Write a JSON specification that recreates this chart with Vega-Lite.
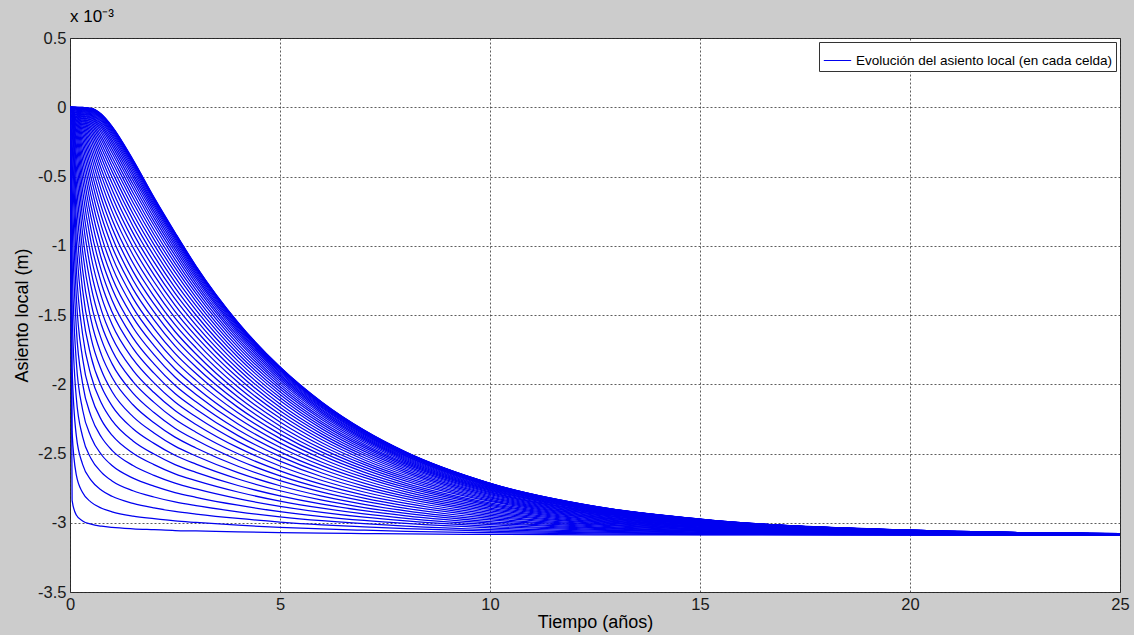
{"$schema":"https://vega.github.io/schema/vega-lite/v6.json","width":1050,"height":554,"autosize":{"type":"none"},"padding":{"left":70,"top":38,"right":14,"bottom":43},"background":"#cccccc","title":{"text":"x 10⁻³","anchor":"start","frame":"group","offset":4,"fontSize":17,"fontWeight":"normal","font":"Liberation Sans","color":"#000000"},
"data":{"values":[
{"c":1,"t":0,"y":0},{"c":1,"t":0.05,"y":-2.838},{"c":1,"t":0.15,"y":-2.944},{"c":1,"t":0.3,"y":-2.987},{"c":1,"t":0.5,"y":-3.010},{"c":1,"t":0.75,"y":-3.025},{"c":1,"t":1,"y":-3.034},{"c":1,"t":1.5,"y":-3.044},{"c":1,"t":2,"y":-3.050},{"c":1,"t":2.5,"y":-3.056},{"c":1,"t":3,"y":-3.059},{"c":1,"t":4,"y":-3.066},{"c":1,"t":5,"y":-3.071},{"c":1,"t":6,"y":-3.075},{"c":1,"t":7,"y":-3.078},{"c":1,"t":8,"y":-3.081},{"c":1,"t":10,"y":-3.084},{"c":1,"t":12.5,"y":-3.087},{"c":1,"t":15,"y":-3.088},{"c":1,"t":20,"y":-3.089},{"c":1,"t":25,"y":-3.090},
{"c":2,"t":0,"y":0},{"c":2,"t":0.05,"y":-2.344},{"c":2,"t":0.15,"y":-2.655},{"c":2,"t":0.3,"y":-2.782},{"c":2,"t":0.5,"y":-2.851},{"c":2,"t":0.75,"y":-2.895},{"c":2,"t":1,"y":-2.921},{"c":2,"t":1.5,"y":-2.952},{"c":2,"t":2,"y":-2.971},{"c":2,"t":2.5,"y":-2.987},{"c":2,"t":3,"y":-2.998},{"c":2,"t":4,"y":-3.018},{"c":2,"t":5,"y":-3.033},{"c":2,"t":6,"y":-3.045},{"c":2,"t":7,"y":-3.054},{"c":2,"t":8,"y":-3.062},{"c":2,"t":10,"y":-3.072},{"c":2,"t":12.5,"y":-3.080},{"c":2,"t":15,"y":-3.085},{"c":2,"t":20,"y":-3.088},{"c":2,"t":25,"y":-3.089},
{"c":3,"t":0,"y":0},{"c":3,"t":0.05,"y":-1.880},{"c":3,"t":0.15,"y":-2.371},{"c":3,"t":0.3,"y":-2.578},{"c":3,"t":0.5,"y":-2.692},{"c":3,"t":0.75,"y":-2.765},{"c":3,"t":1,"y":-2.809},{"c":3,"t":1.5,"y":-2.860},{"c":3,"t":2,"y":-2.893},{"c":3,"t":2.5,"y":-2.918},{"c":3,"t":3,"y":-2.937},{"c":3,"t":4,"y":-2.969},{"c":3,"t":5,"y":-2.995},{"c":3,"t":6,"y":-3.015},{"c":3,"t":7,"y":-3.030},{"c":3,"t":8,"y":-3.043},{"c":3,"t":10,"y":-3.061},{"c":3,"t":12.5,"y":-3.074},{"c":3,"t":15,"y":-3.081},{"c":3,"t":20,"y":-3.087},{"c":3,"t":25,"y":-3.089},
{"c":4,"t":0,"y":0},{"c":4,"t":0.05,"y":-1.462},{"c":4,"t":0.15,"y":-2.098},{"c":4,"t":0.3,"y":-2.378},{"c":4,"t":0.5,"y":-2.536},{"c":4,"t":0.75,"y":-2.636},{"c":4,"t":1,"y":-2.698},{"c":4,"t":1.5,"y":-2.769},{"c":4,"t":2,"y":-2.814},{"c":4,"t":2.5,"y":-2.850},{"c":4,"t":3,"y":-2.877},{"c":4,"t":4,"y":-2.921},{"c":4,"t":5,"y":-2.957},{"c":4,"t":6,"y":-2.985},{"c":4,"t":7,"y":-3.007},{"c":4,"t":8,"y":-3.024},{"c":4,"t":10,"y":-3.049},{"c":4,"t":12.5,"y":-3.067},{"c":4,"t":15,"y":-3.077},{"c":4,"t":20,"y":-3.086},{"c":4,"t":25,"y":-3.089},
{"c":5,"t":0,"y":0},{"c":5,"t":0.05,"y":-1.101},{"c":5,"t":0.15,"y":-1.837},{"c":5,"t":0.3,"y":-2.184},{"c":5,"t":0.5,"y":-2.381},{"c":5,"t":0.75,"y":-2.509},{"c":5,"t":1,"y":-2.587},{"c":5,"t":1.5,"y":-2.678},{"c":5,"t":2,"y":-2.736},{"c":5,"t":2.5,"y":-2.782},{"c":5,"t":3,"y":-2.816},{"c":5,"t":4,"y":-2.873},{"c":5,"t":5,"y":-2.919},{"c":5,"t":6,"y":-2.955},{"c":5,"t":7,"y":-2.983},{"c":5,"t":8,"y":-3.005},{"c":5,"t":10,"y":-3.037},{"c":5,"t":12.5,"y":-3.061},{"c":5,"t":15,"y":-3.074},{"c":5,"t":20,"y":-3.085},{"c":5,"t":25,"y":-3.088},
{"c":6,"t":0,"y":0},{"c":6,"t":0.05,"y":-0.803},{"c":6,"t":0.15,"y":-1.593},{"c":6,"t":0.3,"y":-1.995},{"c":6,"t":0.5,"y":-2.230},{"c":6,"t":0.75,"y":-2.383},{"c":6,"t":1,"y":-2.477},{"c":6,"t":1.5,"y":-2.587},{"c":6,"t":2,"y":-2.658},{"c":6,"t":2.5,"y":-2.714},{"c":6,"t":3,"y":-2.756},{"c":6,"t":4,"y":-2.826},{"c":6,"t":5,"y":-2.881},{"c":6,"t":6,"y":-2.925},{"c":6,"t":7,"y":-2.960},{"c":6,"t":8,"y":-2.987},{"c":6,"t":10,"y":-3.026},{"c":6,"t":12.5,"y":-3.054},{"c":6,"t":15,"y":-3.070},{"c":6,"t":20,"y":-3.084},{"c":6,"t":25,"y":-3.088},
{"c":7,"t":0,"y":0},{"c":7,"t":0.05,"y":-0.565},{"c":7,"t":0.15,"y":-1.366},{"c":7,"t":0.3,"y":-1.813},{"c":7,"t":0.5,"y":-2.081},{"c":7,"t":0.75,"y":-2.259},{"c":7,"t":1,"y":-2.368},{"c":7,"t":1.5,"y":-2.498},{"c":7,"t":2,"y":-2.580},{"c":7,"t":2.5,"y":-2.647},{"c":7,"t":3,"y":-2.696},{"c":7,"t":4,"y":-2.778},{"c":7,"t":5,"y":-2.844},{"c":7,"t":6,"y":-2.895},{"c":7,"t":7,"y":-2.936},{"c":7,"t":8,"y":-2.968},{"c":7,"t":10,"y":-3.014},{"c":7,"t":12.5,"y":-3.048},{"c":7,"t":15,"y":-3.067},{"c":7,"t":20,"y":-3.083},{"c":7,"t":25,"y":-3.088},
{"c":8,"t":0,"y":0},{"c":8,"t":0.05,"y":-0.384},{"c":8,"t":0.15,"y":-1.159},{"c":8,"t":0.3,"y":-1.639},{"c":8,"t":0.5,"y":-1.937},{"c":8,"t":0.75,"y":-2.137},{"c":8,"t":1,"y":-2.261},{"c":8,"t":1.5,"y":-2.409},{"c":8,"t":2,"y":-2.504},{"c":8,"t":2.5,"y":-2.580},{"c":8,"t":3,"y":-2.636},{"c":8,"t":4,"y":-2.731},{"c":8,"t":5,"y":-2.806},{"c":8,"t":6,"y":-2.866},{"c":8,"t":7,"y":-2.913},{"c":8,"t":8,"y":-2.950},{"c":8,"t":10,"y":-3.002},{"c":8,"t":12.5,"y":-3.041},{"c":8,"t":15,"y":-3.063},{"c":8,"t":20,"y":-3.082},{"c":8,"t":25,"y":-3.087},
{"c":9,"t":0,"y":0},{"c":9,"t":0.05,"y":-0.252},{"c":9,"t":0.15,"y":-0.973},{"c":9,"t":0.3,"y":-1.474},{"c":9,"t":0.5,"y":-1.798},{"c":9,"t":0.75,"y":-2.018},{"c":9,"t":1,"y":-2.156},{"c":9,"t":1.5,"y":-2.321},{"c":9,"t":2,"y":-2.427},{"c":9,"t":2.5,"y":-2.513},{"c":9,"t":3,"y":-2.577},{"c":9,"t":4,"y":-2.684},{"c":9,"t":5,"y":-2.769},{"c":9,"t":6,"y":-2.837},{"c":9,"t":7,"y":-2.890},{"c":9,"t":8,"y":-2.932},{"c":9,"t":10,"y":-2.991},{"c":9,"t":12.5,"y":-3.035},{"c":9,"t":15,"y":-3.059},{"c":9,"t":20,"y":-3.081},{"c":9,"t":25,"y":-3.087},
{"c":10,"t":0,"y":0},{"c":10,"t":0.05,"y":-0.160},{"c":10,"t":0.15,"y":-0.807},{"c":10,"t":0.3,"y":-1.319},{"c":10,"t":0.5,"y":-1.663},{"c":10,"t":0.75,"y":-1.901},{"c":10,"t":1,"y":-2.052},{"c":10,"t":1.5,"y":-2.234},{"c":10,"t":2,"y":-2.352},{"c":10,"t":2.5,"y":-2.447},{"c":10,"t":3,"y":-2.518},{"c":10,"t":4,"y":-2.638},{"c":10,"t":5,"y":-2.733},{"c":10,"t":6,"y":-2.808},{"c":10,"t":7,"y":-2.867},{"c":10,"t":8,"y":-2.914},{"c":10,"t":10,"y":-2.980},{"c":10,"t":12.5,"y":-3.029},{"c":10,"t":15,"y":-3.056},{"c":10,"t":20,"y":-3.080},{"c":10,"t":25,"y":-3.087},
{"c":11,"t":0,"y":0},{"c":11,"t":0.05,"y":-0.097},{"c":11,"t":0.15,"y":-0.663},{"c":11,"t":0.3,"y":-1.174},{"c":11,"t":0.5,"y":-1.534},{"c":11,"t":0.75,"y":-1.788},{"c":11,"t":1,"y":-1.950},{"c":11,"t":1.5,"y":-2.148},{"c":11,"t":2,"y":-2.278},{"c":11,"t":2.5,"y":-2.382},{"c":11,"t":3,"y":-2.460},{"c":11,"t":4,"y":-2.592},{"c":11,"t":5,"y":-2.696},{"c":11,"t":6,"y":-2.779},{"c":11,"t":7,"y":-2.844},{"c":11,"t":8,"y":-2.896},{"c":11,"t":10,"y":-2.969},{"c":11,"t":12.5,"y":-3.022},{"c":11,"t":15,"y":-3.052},{"c":11,"t":20,"y":-3.078},{"c":11,"t":25,"y":-3.086},
{"c":12,"t":0,"y":0},{"c":12,"t":0.05,"y":-0.057},{"c":12,"t":0.15,"y":-0.537},{"c":12,"t":0.3,"y":-1.039},{"c":12,"t":0.5,"y":-1.410},{"c":12,"t":0.75,"y":-1.678},{"c":12,"t":1,"y":-1.851},{"c":12,"t":1.5,"y":-2.064},{"c":12,"t":2,"y":-2.204},{"c":12,"t":2.5,"y":-2.317},{"c":12,"t":3,"y":-2.403},{"c":12,"t":4,"y":-2.547},{"c":12,"t":5,"y":-2.661},{"c":12,"t":6,"y":-2.751},{"c":12,"t":7,"y":-2.822},{"c":12,"t":8,"y":-2.878},{"c":12,"t":10,"y":-2.957},{"c":12,"t":12.5,"y":-3.016},{"c":12,"t":15,"y":-3.049},{"c":12,"t":20,"y":-3.077},{"c":12,"t":25,"y":-3.086},
{"c":13,"t":0,"y":0},{"c":13,"t":0.05,"y":-0.032},{"c":13,"t":0.15,"y":-0.430},{"c":13,"t":0.3,"y":-0.914},{"c":13,"t":0.5,"y":-1.292},{"c":13,"t":0.75,"y":-1.572},{"c":13,"t":1,"y":-1.754},{"c":13,"t":1.5,"y":-1.981},{"c":13,"t":2,"y":-2.131},{"c":13,"t":2.5,"y":-2.253},{"c":13,"t":3,"y":-2.346},{"c":13,"t":4,"y":-2.502},{"c":13,"t":5,"y":-2.625},{"c":13,"t":6,"y":-2.723},{"c":13,"t":7,"y":-2.800},{"c":13,"t":8,"y":-2.860},{"c":13,"t":10,"y":-2.947},{"c":13,"t":12.5,"y":-3.010},{"c":13,"t":15,"y":-3.046},{"c":13,"t":20,"y":-3.076},{"c":13,"t":25,"y":-3.086},
{"c":14,"t":0,"y":0},{"c":14,"t":0.05,"y":-0.018},{"c":14,"t":0.15,"y":-0.341},{"c":14,"t":0.3,"y":-0.799},{"c":14,"t":0.5,"y":-1.180},{"c":14,"t":0.75,"y":-1.468},{"c":14,"t":1,"y":-1.659},{"c":14,"t":1.5,"y":-1.899},{"c":14,"t":2,"y":-2.060},{"c":14,"t":2.5,"y":-2.190},{"c":14,"t":3,"y":-2.290},{"c":14,"t":4,"y":-2.458},{"c":14,"t":5,"y":-2.590},{"c":14,"t":6,"y":-2.695},{"c":14,"t":7,"y":-2.778},{"c":14,"t":8,"y":-2.843},{"c":14,"t":10,"y":-2.936},{"c":14,"t":12.5,"y":-3.004},{"c":14,"t":15,"y":-3.042},{"c":14,"t":20,"y":-3.075},{"c":14,"t":25,"y":-3.085},
{"c":15,"t":0,"y":0},{"c":15,"t":0.05,"y":-0.009},{"c":15,"t":0.15,"y":-0.267},{"c":15,"t":0.3,"y":-0.696},{"c":15,"t":0.5,"y":-1.074},{"c":15,"t":0.75,"y":-1.369},{"c":15,"t":1,"y":-1.567},{"c":15,"t":1.5,"y":-1.819},{"c":15,"t":2,"y":-1.990},{"c":15,"t":2.5,"y":-2.128},{"c":15,"t":3,"y":-2.235},{"c":15,"t":4,"y":-2.414},{"c":15,"t":5,"y":-2.555},{"c":15,"t":6,"y":-2.668},{"c":15,"t":7,"y":-2.756},{"c":15,"t":8,"y":-2.826},{"c":15,"t":10,"y":-2.925},{"c":15,"t":12.5,"y":-2.998},{"c":15,"t":15,"y":-3.039},{"c":15,"t":20,"y":-3.074},{"c":15,"t":25,"y":-3.085},
{"c":16,"t":0,"y":0},{"c":16,"t":0.05,"y":-0.005},{"c":16,"t":0.15,"y":-0.206},{"c":16,"t":0.3,"y":-0.602},{"c":16,"t":0.5,"y":-0.974},{"c":16,"t":0.75,"y":-1.274},{"c":16,"t":1,"y":-1.477},{"c":16,"t":1.5,"y":-1.741},{"c":16,"t":2,"y":-1.920},{"c":16,"t":2.5,"y":-2.067},{"c":16,"t":3,"y":-2.180},{"c":16,"t":4,"y":-2.371},{"c":16,"t":5,"y":-2.521},{"c":16,"t":6,"y":-2.641},{"c":16,"t":7,"y":-2.735},{"c":16,"t":8,"y":-2.809},{"c":16,"t":10,"y":-2.915},{"c":16,"t":12.5,"y":-2.992},{"c":16,"t":15,"y":-3.036},{"c":16,"t":20,"y":-3.073},{"c":16,"t":25,"y":-3.085},
{"c":17,"t":0,"y":0},{"c":17,"t":0.05,"y":-0.002},{"c":17,"t":0.15,"y":-0.158},{"c":17,"t":0.3,"y":-0.518},{"c":17,"t":0.5,"y":-0.881},{"c":17,"t":0.75,"y":-1.183},{"c":17,"t":1,"y":-1.391},{"c":17,"t":1.5,"y":-1.665},{"c":17,"t":2,"y":-1.853},{"c":17,"t":2.5,"y":-2.007},{"c":17,"t":3,"y":-2.127},{"c":17,"t":4,"y":-2.329},{"c":17,"t":5,"y":-2.488},{"c":17,"t":6,"y":-2.614},{"c":17,"t":7,"y":-2.714},{"c":17,"t":8,"y":-2.793},{"c":17,"t":10,"y":-2.904},{"c":17,"t":12.5,"y":-2.987},{"c":17,"t":15,"y":-3.033},{"c":17,"t":20,"y":-3.072},{"c":17,"t":25,"y":-3.085},
{"c":18,"t":0,"y":0},{"c":18,"t":0.05,"y":-0.001},{"c":18,"t":0.15,"y":-0.119},{"c":18,"t":0.3,"y":-0.443},{"c":18,"t":0.5,"y":-0.794},{"c":18,"t":0.75,"y":-1.096},{"c":18,"t":1,"y":-1.307},{"c":18,"t":1.5,"y":-1.590},{"c":18,"t":2,"y":-1.786},{"c":18,"t":2.5,"y":-1.948},{"c":18,"t":3,"y":-2.074},{"c":18,"t":4,"y":-2.287},{"c":18,"t":5,"y":-2.455},{"c":18,"t":6,"y":-2.588},{"c":18,"t":7,"y":-2.693},{"c":18,"t":8,"y":-2.777},{"c":18,"t":10,"y":-2.894},{"c":18,"t":12.5,"y":-2.981},{"c":18,"t":15,"y":-3.029},{"c":18,"t":20,"y":-3.071},{"c":18,"t":25,"y":-3.084},
{"c":19,"t":0,"y":0},{"c":19,"t":0.15,"y":-0.089},{"c":19,"t":0.3,"y":-0.376},{"c":19,"t":0.5,"y":-0.713},{"c":19,"t":0.75,"y":-1.013},{"c":19,"t":1,"y":-1.227},{"c":19,"t":1.5,"y":-1.517},{"c":19,"t":2,"y":-1.721},{"c":19,"t":2.5,"y":-1.890},{"c":19,"t":3,"y":-2.023},{"c":19,"t":4,"y":-2.246},{"c":19,"t":5,"y":-2.423},{"c":19,"t":6,"y":-2.563},{"c":19,"t":7,"y":-2.673},{"c":19,"t":8,"y":-2.761},{"c":19,"t":10,"y":-2.884},{"c":19,"t":12.5,"y":-2.975},{"c":19,"t":15,"y":-3.026},{"c":19,"t":20,"y":-3.070},{"c":19,"t":25,"y":-3.084},
{"c":20,"t":0,"y":0},{"c":20,"t":0.15,"y":-0.065},{"c":20,"t":0.3,"y":-0.318},{"c":20,"t":0.5,"y":-0.638},{"c":20,"t":0.75,"y":-0.934},{"c":20,"t":1,"y":-1.149},{"c":20,"t":1.5,"y":-1.447},{"c":20,"t":2,"y":-1.658},{"c":20,"t":2.5,"y":-1.833},{"c":20,"t":3,"y":-1.972},{"c":20,"t":4,"y":-2.206},{"c":20,"t":5,"y":-2.391},{"c":20,"t":6,"y":-2.538},{"c":20,"t":7,"y":-2.654},{"c":20,"t":8,"y":-2.745},{"c":20,"t":10,"y":-2.874},{"c":20,"t":12.5,"y":-2.970},{"c":20,"t":15,"y":-3.023},{"c":20,"t":20,"y":-3.069},{"c":20,"t":25,"y":-3.084},
{"c":21,"t":0,"y":0},{"c":21,"t":0.15,"y":-0.047},{"c":21,"t":0.3,"y":-0.267},{"c":21,"t":0.5,"y":-0.569},{"c":21,"t":0.75,"y":-0.860},{"c":21,"t":1,"y":-1.075},{"c":21,"t":1.5,"y":-1.378},{"c":21,"t":2,"y":-1.596},{"c":21,"t":2.5,"y":-1.777},{"c":21,"t":3,"y":-1.923},{"c":21,"t":4,"y":-2.167},{"c":21,"t":5,"y":-2.360},{"c":21,"t":6,"y":-2.514},{"c":21,"t":7,"y":-2.634},{"c":21,"t":8,"y":-2.730},{"c":21,"t":10,"y":-2.865},{"c":21,"t":12.5,"y":-2.965},{"c":21,"t":15,"y":-3.020},{"c":21,"t":20,"y":-3.069},{"c":21,"t":25,"y":-3.083},
{"c":22,"t":0,"y":0},{"c":22,"t":0.15,"y":-0.034},{"c":22,"t":0.3,"y":-0.223},{"c":22,"t":0.5,"y":-0.506},{"c":22,"t":0.75,"y":-0.789},{"c":22,"t":1,"y":-1.003},{"c":22,"t":1.5,"y":-1.311},{"c":22,"t":2,"y":-1.535},{"c":22,"t":2.5,"y":-1.723},{"c":22,"t":3,"y":-1.875},{"c":22,"t":4,"y":-2.129},{"c":22,"t":5,"y":-2.330},{"c":22,"t":6,"y":-2.490},{"c":22,"t":7,"y":-2.615},{"c":22,"t":8,"y":-2.715},{"c":22,"t":10,"y":-2.856},{"c":22,"t":12.5,"y":-2.960},{"c":22,"t":15,"y":-3.018},{"c":22,"t":20,"y":-3.068},{"c":22,"t":25,"y":-3.083},
{"c":23,"t":0,"y":0},{"c":23,"t":0.15,"y":-0.024},{"c":23,"t":0.3,"y":-0.185},{"c":23,"t":0.5,"y":-0.448},{"c":23,"t":0.75,"y":-0.723},{"c":23,"t":1,"y":-0.935},{"c":23,"t":1.5,"y":-1.247},{"c":23,"t":2,"y":-1.477},{"c":23,"t":2.5,"y":-1.670},{"c":23,"t":3,"y":-1.827},{"c":23,"t":4,"y":-2.092},{"c":23,"t":5,"y":-2.301},{"c":23,"t":6,"y":-2.467},{"c":23,"t":7,"y":-2.597},{"c":23,"t":8,"y":-2.700},{"c":23,"t":10,"y":-2.846},{"c":23,"t":12.5,"y":-2.955},{"c":23,"t":15,"y":-3.015},{"c":23,"t":20,"y":-3.067},{"c":23,"t":25,"y":-3.083},
{"c":24,"t":0,"y":0},{"c":24,"t":0.15,"y":-0.017},{"c":24,"t":0.3,"y":-0.152},{"c":24,"t":0.5,"y":-0.396},{"c":24,"t":0.75,"y":-0.661},{"c":24,"t":1,"y":-0.870},{"c":24,"t":1.5,"y":-1.185},{"c":24,"t":2,"y":-1.420},{"c":24,"t":2.5,"y":-1.619},{"c":24,"t":3,"y":-1.782},{"c":24,"t":4,"y":-2.056},{"c":24,"t":5,"y":-2.272},{"c":24,"t":6,"y":-2.444},{"c":24,"t":7,"y":-2.579},{"c":24,"t":8,"y":-2.686},{"c":24,"t":10,"y":-2.838},{"c":24,"t":12.5,"y":-2.950},{"c":24,"t":15,"y":-3.012},{"c":24,"t":20,"y":-3.066},{"c":24,"t":25,"y":-3.083},
{"c":25,"t":0,"y":0},{"c":25,"t":0.15,"y":-0.012},{"c":25,"t":0.3,"y":-0.125},{"c":25,"t":0.5,"y":-0.348},{"c":25,"t":0.75,"y":-0.603},{"c":25,"t":1,"y":-0.809},{"c":25,"t":1.5,"y":-1.125},{"c":25,"t":2,"y":-1.365},{"c":25,"t":2.5,"y":-1.569},{"c":25,"t":3,"y":-1.737},{"c":25,"t":4,"y":-2.020},{"c":25,"t":5,"y":-2.244},{"c":25,"t":6,"y":-2.422},{"c":25,"t":7,"y":-2.562},{"c":25,"t":8,"y":-2.672},{"c":25,"t":10,"y":-2.829},{"c":25,"t":12.5,"y":-2.945},{"c":25,"t":15,"y":-3.009},{"c":25,"t":20,"y":-3.065},{"c":25,"t":25,"y":-3.082},
{"c":26,"t":0,"y":0},{"c":26,"t":0.15,"y":-0.008},{"c":26,"t":0.3,"y":-0.102},{"c":26,"t":0.5,"y":-0.305},{"c":26,"t":0.75,"y":-0.548},{"c":26,"t":1,"y":-0.750},{"c":26,"t":1.5,"y":-1.067},{"c":26,"t":2,"y":-1.311},{"c":26,"t":2.5,"y":-1.520},{"c":26,"t":3,"y":-1.694},{"c":26,"t":4,"y":-1.986},{"c":26,"t":5,"y":-2.217},{"c":26,"t":6,"y":-2.401},{"c":26,"t":7,"y":-2.545},{"c":26,"t":8,"y":-2.659},{"c":26,"t":10,"y":-2.821},{"c":26,"t":12.5,"y":-2.940},{"c":26,"t":15,"y":-3.007},{"c":26,"t":20,"y":-3.064},{"c":26,"t":25,"y":-3.082},
{"c":27,"t":0,"y":0},{"c":27,"t":0.15,"y":-0.005},{"c":27,"t":0.3,"y":-0.083},{"c":27,"t":0.5,"y":-0.266},{"c":27,"t":0.75,"y":-0.497},{"c":27,"t":1,"y":-0.695},{"c":27,"t":1.5,"y":-1.011},{"c":27,"t":2,"y":-1.260},{"c":27,"t":2.5,"y":-1.473},{"c":27,"t":3,"y":-1.652},{"c":27,"t":4,"y":-1.953},{"c":27,"t":5,"y":-2.191},{"c":27,"t":6,"y":-2.380},{"c":27,"t":7,"y":-2.529},{"c":27,"t":8,"y":-2.646},{"c":27,"t":10,"y":-2.813},{"c":27,"t":12.5,"y":-2.936},{"c":27,"t":15,"y":-3.004},{"c":27,"t":20,"y":-3.064},{"c":27,"t":25,"y":-3.082},
{"c":28,"t":0,"y":0},{"c":28,"t":0.15,"y":-0.004},{"c":28,"t":0.3,"y":-0.066},{"c":28,"t":0.5,"y":-0.231},{"c":28,"t":0.75,"y":-0.451},{"c":28,"t":1,"y":-0.642},{"c":28,"t":1.5,"y":-0.958},{"c":28,"t":2,"y":-1.210},{"c":28,"t":2.5,"y":-1.428},{"c":28,"t":3,"y":-1.612},{"c":28,"t":4,"y":-1.921},{"c":28,"t":5,"y":-2.166},{"c":28,"t":6,"y":-2.360},{"c":28,"t":7,"y":-2.513},{"c":28,"t":8,"y":-2.634},{"c":28,"t":10,"y":-2.805},{"c":28,"t":12.5,"y":-2.931},{"c":28,"t":15,"y":-3.002},{"c":28,"t":20,"y":-3.063},{"c":28,"t":25,"y":-3.082},
{"c":29,"t":0,"y":0},{"c":29,"t":0.15,"y":-0.002},{"c":29,"t":0.3,"y":-0.053},{"c":29,"t":0.5,"y":-0.200},{"c":29,"t":0.75,"y":-0.407},{"c":29,"t":1,"y":-0.593},{"c":29,"t":1.5,"y":-0.907},{"c":29,"t":2,"y":-1.163},{"c":29,"t":2.5,"y":-1.384},{"c":29,"t":3,"y":-1.573},{"c":29,"t":4,"y":-1.890},{"c":29,"t":5,"y":-2.142},{"c":29,"t":6,"y":-2.341},{"c":29,"t":7,"y":-2.498},{"c":29,"t":8,"y":-2.622},{"c":29,"t":10,"y":-2.797},{"c":29,"t":12.5,"y":-2.927},{"c":29,"t":15,"y":-3.000},{"c":29,"t":20,"y":-3.062},{"c":29,"t":25,"y":-3.081},
{"c":30,"t":0,"y":0},{"c":30,"t":0.15,"y":-0.002},{"c":30,"t":0.3,"y":-0.042},{"c":30,"t":0.5,"y":-0.173},{"c":30,"t":0.75,"y":-0.366},{"c":30,"t":1,"y":-0.547},{"c":30,"t":1.5,"y":-0.859},{"c":30,"t":2,"y":-1.117},{"c":30,"t":2.5,"y":-1.342},{"c":30,"t":3,"y":-1.535},{"c":30,"t":4,"y":-1.861},{"c":30,"t":5,"y":-2.118},{"c":30,"t":6,"y":-2.322},{"c":30,"t":7,"y":-2.483},{"c":30,"t":8,"y":-2.610},{"c":30,"t":10,"y":-2.790},{"c":30,"t":12.5,"y":-2.923},{"c":30,"t":15,"y":-2.997},{"c":30,"t":20,"y":-3.061},{"c":30,"t":25,"y":-3.081},
{"c":31,"t":0,"y":0},{"c":31,"t":0.15,"y":-0.001},{"c":31,"t":0.3,"y":-0.033},{"c":31,"t":0.5,"y":-0.149},{"c":31,"t":0.75,"y":-0.330},{"c":31,"t":1,"y":-0.504},{"c":31,"t":1.5,"y":-0.813},{"c":31,"t":2,"y":-1.073},{"c":31,"t":2.5,"y":-1.302},{"c":31,"t":3,"y":-1.500},{"c":31,"t":4,"y":-1.833},{"c":31,"t":5,"y":-2.096},{"c":31,"t":6,"y":-2.305},{"c":31,"t":7,"y":-2.469},{"c":31,"t":8,"y":-2.599},{"c":31,"t":10,"y":-2.783},{"c":31,"t":12.5,"y":-2.919},{"c":31,"t":15,"y":-2.995},{"c":31,"t":20,"y":-3.061},{"c":31,"t":25,"y":-3.081},
{"c":32,"t":0,"y":0},{"c":32,"t":0.3,"y":-0.026},{"c":32,"t":0.5,"y":-0.128},{"c":32,"t":0.75,"y":-0.296},{"c":32,"t":1,"y":-0.463},{"c":32,"t":1.5,"y":-0.769},{"c":32,"t":2,"y":-1.031},{"c":32,"t":2.5,"y":-1.263},{"c":32,"t":3,"y":-1.465},{"c":32,"t":4,"y":-1.805},{"c":32,"t":5,"y":-2.074},{"c":32,"t":6,"y":-2.288},{"c":32,"t":7,"y":-2.456},{"c":32,"t":8,"y":-2.589},{"c":32,"t":10,"y":-2.777},{"c":32,"t":12.5,"y":-2.916},{"c":32,"t":15,"y":-2.993},{"c":32,"t":20,"y":-3.060},{"c":32,"t":25,"y":-3.081},
{"c":33,"t":0,"y":0},{"c":33,"t":0.3,"y":-0.020},{"c":33,"t":0.5,"y":-0.109},{"c":33,"t":0.75,"y":-0.265},{"c":33,"t":1,"y":-0.426},{"c":33,"t":1.5,"y":-0.727},{"c":33,"t":2,"y":-0.992},{"c":33,"t":2.5,"y":-1.226},{"c":33,"t":3,"y":-1.432},{"c":33,"t":4,"y":-1.780},{"c":33,"t":5,"y":-2.054},{"c":33,"t":6,"y":-2.272},{"c":33,"t":7,"y":-2.443},{"c":33,"t":8,"y":-2.578},{"c":33,"t":10,"y":-2.770},{"c":33,"t":12.5,"y":-2.912},{"c":33,"t":15,"y":-2.991},{"c":33,"t":20,"y":-3.060},{"c":33,"t":25,"y":-3.081},
{"c":34,"t":0,"y":0},{"c":34,"t":0.3,"y":-0.016},{"c":34,"t":0.5,"y":-0.093},{"c":34,"t":0.75,"y":-0.237},{"c":34,"t":1,"y":-0.391},{"c":34,"t":1.5,"y":-0.688},{"c":34,"t":2,"y":-0.954},{"c":34,"t":2.5,"y":-1.191},{"c":34,"t":3,"y":-1.401},{"c":34,"t":4,"y":-1.755},{"c":34,"t":5,"y":-2.035},{"c":34,"t":6,"y":-2.256},{"c":34,"t":7,"y":-2.431},{"c":34,"t":8,"y":-2.569},{"c":34,"t":10,"y":-2.764},{"c":34,"t":12.5,"y":-2.909},{"c":34,"t":15,"y":-2.989},{"c":34,"t":20,"y":-3.059},{"c":34,"t":25,"y":-3.080},
{"c":35,"t":0,"y":0},{"c":35,"t":0.3,"y":-0.012},{"c":35,"t":0.5,"y":-0.079},{"c":35,"t":0.75,"y":-0.212},{"c":35,"t":1,"y":-0.359},{"c":35,"t":1.5,"y":-0.652},{"c":35,"t":2,"y":-0.919},{"c":35,"t":2.5,"y":-1.158},{"c":35,"t":3,"y":-1.372},{"c":35,"t":4,"y":-1.732},{"c":35,"t":5,"y":-2.016},{"c":35,"t":6,"y":-2.242},{"c":35,"t":7,"y":-2.419},{"c":35,"t":8,"y":-2.560},{"c":35,"t":10,"y":-2.759},{"c":35,"t":12.5,"y":-2.906},{"c":35,"t":15,"y":-2.988},{"c":35,"t":20,"y":-3.058},{"c":35,"t":25,"y":-3.080},
{"c":36,"t":0,"y":0},{"c":36,"t":0.3,"y":-0.009},{"c":36,"t":0.5,"y":-0.066},{"c":36,"t":0.75,"y":-0.188},{"c":36,"t":1,"y":-0.329},{"c":36,"t":1.5,"y":-0.617},{"c":36,"t":2,"y":-0.886},{"c":36,"t":2.5,"y":-1.127},{"c":36,"t":3,"y":-1.344},{"c":36,"t":4,"y":-1.710},{"c":36,"t":5,"y":-1.999},{"c":36,"t":6,"y":-2.228},{"c":36,"t":7,"y":-2.408},{"c":36,"t":8,"y":-2.551},{"c":36,"t":10,"y":-2.753},{"c":36,"t":12.5,"y":-2.903},{"c":36,"t":15,"y":-2.986},{"c":36,"t":20,"y":-3.058},{"c":36,"t":25,"y":-3.080},
{"c":37,"t":0,"y":0},{"c":37,"t":0.3,"y":-0.007},{"c":37,"t":0.5,"y":-0.056},{"c":37,"t":0.75,"y":-0.168},{"c":37,"t":1,"y":-0.302},{"c":37,"t":1.5,"y":-0.585},{"c":37,"t":2,"y":-0.854},{"c":37,"t":2.5,"y":-1.098},{"c":37,"t":3,"y":-1.318},{"c":37,"t":4,"y":-1.689},{"c":37,"t":5,"y":-1.983},{"c":37,"t":6,"y":-2.215},{"c":37,"t":7,"y":-2.398},{"c":37,"t":8,"y":-2.543},{"c":37,"t":10,"y":-2.748},{"c":37,"t":12.5,"y":-2.900},{"c":37,"t":15,"y":-2.984},{"c":37,"t":20,"y":-3.057},{"c":37,"t":25,"y":-3.080},
{"c":38,"t":0,"y":0},{"c":38,"t":0.3,"y":-0.005},{"c":38,"t":0.5,"y":-0.047},{"c":38,"t":0.75,"y":-0.149},{"c":38,"t":1,"y":-0.277},{"c":38,"t":1.5,"y":-0.556},{"c":38,"t":2,"y":-0.826},{"c":38,"t":2.5,"y":-1.070},{"c":38,"t":3,"y":-1.294},{"c":38,"t":4,"y":-1.670},{"c":38,"t":5,"y":-1.967},{"c":38,"t":6,"y":-2.203},{"c":38,"t":7,"y":-2.389},{"c":38,"t":8,"y":-2.536},{"c":38,"t":10,"y":-2.744},{"c":38,"t":12.5,"y":-2.897},{"c":38,"t":15,"y":-2.983},{"c":38,"t":20,"y":-3.057},{"c":38,"t":25,"y":-3.080},
{"c":39,"t":0,"y":0},{"c":39,"t":0.3,"y":-0.004},{"c":39,"t":0.5,"y":-0.039},{"c":39,"t":0.75,"y":-0.132},{"c":39,"t":1,"y":-0.255},{"c":39,"t":1.5,"y":-0.528},{"c":39,"t":2,"y":-0.799},{"c":39,"t":2.5,"y":-1.045},{"c":39,"t":3,"y":-1.271},{"c":39,"t":4,"y":-1.652},{"c":39,"t":5,"y":-1.953},{"c":39,"t":6,"y":-2.192},{"c":39,"t":7,"y":-2.380},{"c":39,"t":8,"y":-2.529},{"c":39,"t":10,"y":-2.739},{"c":39,"t":12.5,"y":-2.895},{"c":39,"t":15,"y":-2.982},{"c":39,"t":20,"y":-3.057},{"c":39,"t":25,"y":-3.080},
{"c":40,"t":0,"y":0},{"c":40,"t":0.3,"y":-0.003},{"c":40,"t":0.5,"y":-0.032},{"c":40,"t":0.75,"y":-0.118},{"c":40,"t":1,"y":-0.235},{"c":40,"t":1.5,"y":-0.503},{"c":40,"t":2,"y":-0.774},{"c":40,"t":2.5,"y":-1.022},{"c":40,"t":3,"y":-1.251},{"c":40,"t":4,"y":-1.636},{"c":40,"t":5,"y":-1.940},{"c":40,"t":6,"y":-2.182},{"c":40,"t":7,"y":-2.372},{"c":40,"t":8,"y":-2.522},{"c":40,"t":10,"y":-2.735},{"c":40,"t":12.5,"y":-2.893},{"c":40,"t":15,"y":-2.980},{"c":40,"t":20,"y":-3.056},{"c":40,"t":25,"y":-3.080},
{"c":41,"t":0,"y":0},{"c":41,"t":0.3,"y":-0.002},{"c":41,"t":0.5,"y":-0.027},{"c":41,"t":0.75,"y":-0.104},{"c":41,"t":1,"y":-0.216},{"c":41,"t":1.5,"y":-0.481},{"c":41,"t":2,"y":-0.752},{"c":41,"t":2.5,"y":-1.001},{"c":41,"t":3,"y":-1.232},{"c":41,"t":4,"y":-1.621},{"c":41,"t":5,"y":-1.929},{"c":41,"t":6,"y":-2.172},{"c":41,"t":7,"y":-2.365},{"c":41,"t":8,"y":-2.517},{"c":41,"t":10,"y":-2.732},{"c":41,"t":12.5,"y":-2.891},{"c":41,"t":15,"y":-2.979},{"c":41,"t":20,"y":-3.056},{"c":41,"t":25,"y":-3.080},
{"c":42,"t":0,"y":0},{"c":42,"t":0.3,"y":-0.002},{"c":42,"t":0.5,"y":-0.022},{"c":42,"t":0.75,"y":-0.093},{"c":42,"t":1,"y":-0.200},{"c":42,"t":1.5,"y":-0.460},{"c":42,"t":2,"y":-0.731},{"c":42,"t":2.5,"y":-0.981},{"c":42,"t":3,"y":-1.215},{"c":42,"t":4,"y":-1.608},{"c":42,"t":5,"y":-1.918},{"c":42,"t":6,"y":-2.164},{"c":42,"t":7,"y":-2.358},{"c":42,"t":8,"y":-2.511},{"c":42,"t":10,"y":-2.728},{"c":42,"t":12.5,"y":-2.889},{"c":42,"t":15,"y":-2.978},{"c":42,"t":20,"y":-3.055},{"c":42,"t":25,"y":-3.080},
{"c":43,"t":0,"y":0},{"c":43,"t":0.3,"y":-0.001},{"c":43,"t":0.5,"y":-0.018},{"c":43,"t":0.75,"y":-0.083},{"c":43,"t":1,"y":-0.186},{"c":43,"t":1.5,"y":-0.442},{"c":43,"t":2,"y":-0.713},{"c":43,"t":2.5,"y":-0.964},{"c":43,"t":3,"y":-1.200},{"c":43,"t":4,"y":-1.596},{"c":43,"t":5,"y":-1.909},{"c":43,"t":6,"y":-2.157},{"c":43,"t":7,"y":-2.352},{"c":43,"t":8,"y":-2.507},{"c":43,"t":10,"y":-2.725},{"c":43,"t":12.5,"y":-2.887},{"c":43,"t":15,"y":-2.977},{"c":43,"t":20,"y":-3.055},{"c":43,"t":25,"y":-3.079},
{"c":44,"t":0,"y":0},{"c":44,"t":0.3,"y":-0.001},{"c":44,"t":0.5,"y":-0.015},{"c":44,"t":0.75,"y":-0.075},{"c":44,"t":1,"y":-0.174},{"c":44,"t":1.5,"y":-0.426},{"c":44,"t":2,"y":-0.698},{"c":44,"t":2.5,"y":-0.949},{"c":44,"t":3,"y":-1.186},{"c":44,"t":4,"y":-1.585},{"c":44,"t":5,"y":-1.900},{"c":44,"t":6,"y":-2.150},{"c":44,"t":7,"y":-2.347},{"c":44,"t":8,"y":-2.502},{"c":44,"t":10,"y":-2.723},{"c":44,"t":12.5,"y":-2.886},{"c":44,"t":15,"y":-2.977},{"c":44,"t":20,"y":-3.055},{"c":44,"t":25,"y":-3.079},
{"c":45,"t":0,"y":0},{"c":45,"t":0.5,"y":-0.013},{"c":45,"t":0.75,"y":-0.068},{"c":45,"t":1,"y":-0.164},{"c":45,"t":1.5,"y":-0.413},{"c":45,"t":2,"y":-0.684},{"c":45,"t":2.5,"y":-0.937},{"c":45,"t":3,"y":-1.175},{"c":45,"t":4,"y":-1.576},{"c":45,"t":5,"y":-1.893},{"c":45,"t":6,"y":-2.144},{"c":45,"t":7,"y":-2.342},{"c":45,"t":8,"y":-2.499},{"c":45,"t":10,"y":-2.721},{"c":45,"t":12.5,"y":-2.885},{"c":45,"t":15,"y":-2.976},{"c":45,"t":20,"y":-3.055},{"c":45,"t":25,"y":-3.079},
{"c":46,"t":0,"y":0},{"c":46,"t":0.5,"y":-0.011},{"c":46,"t":0.75,"y":-0.062},{"c":46,"t":1,"y":-0.155},{"c":46,"t":1.5,"y":-0.402},{"c":46,"t":2,"y":-0.673},{"c":46,"t":2.5,"y":-0.926},{"c":46,"t":3,"y":-1.165},{"c":46,"t":4,"y":-1.568},{"c":46,"t":5,"y":-1.887},{"c":46,"t":6,"y":-2.140},{"c":46,"t":7,"y":-2.339},{"c":46,"t":8,"y":-2.496},{"c":46,"t":10,"y":-2.719},{"c":46,"t":12.5,"y":-2.884},{"c":46,"t":15,"y":-2.975},{"c":46,"t":20,"y":-3.055},{"c":46,"t":25,"y":-3.079},
{"c":47,"t":0,"y":0},{"c":47,"t":0.5,"y":-0.010},{"c":47,"t":0.75,"y":-0.057},{"c":47,"t":1,"y":-0.148},{"c":47,"t":1.5,"y":-0.393},{"c":47,"t":2,"y":-0.664},{"c":47,"t":2.5,"y":-0.917},{"c":47,"t":3,"y":-1.158},{"c":47,"t":4,"y":-1.562},{"c":47,"t":5,"y":-1.882},{"c":47,"t":6,"y":-2.136},{"c":47,"t":7,"y":-2.336},{"c":47,"t":8,"y":-2.494},{"c":47,"t":10,"y":-2.717},{"c":47,"t":12.5,"y":-2.883},{"c":47,"t":15,"y":-2.975},{"c":47,"t":20,"y":-3.054},{"c":47,"t":25,"y":-3.079},
{"c":48,"t":0,"y":0},{"c":48,"t":0.5,"y":-0.009},{"c":48,"t":0.75,"y":-0.054},{"c":48,"t":1,"y":-0.143},{"c":48,"t":1.5,"y":-0.386},{"c":48,"t":2,"y":-0.657},{"c":48,"t":2.5,"y":-0.911},{"c":48,"t":3,"y":-1.152},{"c":48,"t":4,"y":-1.558},{"c":48,"t":5,"y":-1.879},{"c":48,"t":6,"y":-2.133},{"c":48,"t":7,"y":-2.333},{"c":48,"t":8,"y":-2.492},{"c":48,"t":10,"y":-2.716},{"c":48,"t":12.5,"y":-2.882},{"c":48,"t":15,"y":-2.974},{"c":48,"t":20,"y":-3.054},{"c":48,"t":25,"y":-3.079},
{"c":49,"t":0,"y":0},{"c":49,"t":0.5,"y":-0.008},{"c":49,"t":0.75,"y":-0.052},{"c":49,"t":1,"y":-0.140},{"c":49,"t":1.5,"y":-0.382},{"c":49,"t":2,"y":-0.653},{"c":49,"t":2.5,"y":-0.906},{"c":49,"t":3,"y":-1.148},{"c":49,"t":4,"y":-1.555},{"c":49,"t":5,"y":-1.876},{"c":49,"t":6,"y":-2.131},{"c":49,"t":7,"y":-2.332},{"c":49,"t":8,"y":-2.491},{"c":49,"t":10,"y":-2.715},{"c":49,"t":12.5,"y":-2.882},{"c":49,"t":15,"y":-2.974},{"c":49,"t":20,"y":-3.054},{"c":49,"t":25,"y":-3.079},
{"c":50,"t":0,"y":0},{"c":50,"t":0.5,"y":-0.008},{"c":50,"t":0.75,"y":-0.051},{"c":50,"t":1,"y":-0.138},{"c":50,"t":1.5,"y":-0.379},{"c":50,"t":2,"y":-0.651},{"c":50,"t":2.5,"y":-0.904},{"c":50,"t":3,"y":-1.146},{"c":50,"t":4,"y":-1.553},{"c":50,"t":5,"y":-1.875},{"c":50,"t":6,"y":-2.130},{"c":50,"t":7,"y":-2.331},{"c":50,"t":8,"y":-2.490},{"c":50,"t":10,"y":-2.715},{"c":50,"t":12.5,"y":-2.881},{"c":50,"t":15,"y":-2.974},{"c":50,"t":20,"y":-3.054},{"c":50,"t":25,"y":-3.079}
]},
"mark":{"type":"line","interpolate":"monotone","strokeWidth":1.25,"clip":true},
"encoding":{
"x":{"field":"t","type":"quantitative","scale":{"domain":[0,25],"nice":false,"zero":false},"axis":{"title":"Tiempo (años)","values":[0,5,10,15,20,25],"labelFlush":false}},
"y":{"field":"y","type":"quantitative","scale":{"domain":[-3.5,0.5],"nice":false,"zero":false},"axis":{"title":"Asiento local (m)","values":[-3.5,-3,-2.5,-2,-1.5,-1,-0.5,0,0.5],"labelExpr":"'' + datum.value"}},
"detail":{"field":"c","type":"nominal"},
"color":{"datum":"Evolución del asiento local (en cada celda)","scale":{"range":["#0000f0"]},"legend":{"title":null,"orient":"top-right","offset":4,"symbolType":"stroke","symbolSize":750,"symbolStrokeWidth":1,"symbolStrokeColor":"#202070","labelFont":"Liberation Sans","labelFontSize":13.5,"labelColor":"#000000","strokeColor":"#333333","fillColor":"#ffffff","padding":4,"labelLimit":500,"labelOffset":4}}
},
"config":{
"view":{"fill":"#ffffff","stroke":"#262626","strokeWidth":1},
"axis":{"domain":false,"ticks":false,"grid":true,"gridColor":"#333333","gridDash":[2,2],"gridWidth":0.8,"labelFont":"Liberation Sans","labelFontSize":16.5,"labelColor":"#1a1a1a","labelPadding":4,"titleFont":"Liberation Sans","titleFontSize":18,"titleFontWeight":"normal","titleColor":"#000000"},
"axisY":{"titlePadding":6},
"axisX":{"titlePadding":1}
}
}
